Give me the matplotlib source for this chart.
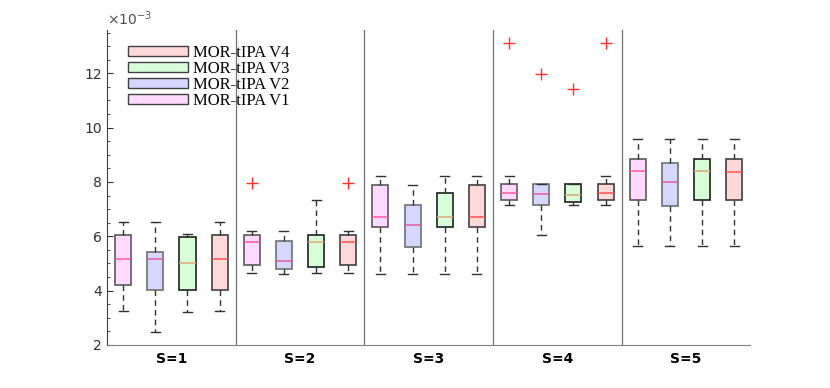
import matplotlib
matplotlib.use('Agg')
import matplotlib.pyplot as plt
from matplotlib.patches import Patch

# values in units of 1e-3, one list per version, one entry per S group
groups = ['S=1', 'S=2', 'S=3', 'S=4', 'S=5']
versions = ['MOR-tIPA V1', 'MOR-tIPA V2', 'MOR-tIPA V3', 'MOR-tIPA V4']

whislo = {
    'V1': [3.24, 4.64, 4.60, 7.14, 5.65],
    'V2': [2.46, 4.60, 4.60, 6.03, 5.65],
    'V3': [3.20, 4.64, 4.60, 7.14, 5.65],
    'V4': [3.24, 4.64, 4.60, 7.14, 5.65],
}
q1 = {
    'V1': [4.19, 4.95, 6.34, 7.33, 7.33],
    'V2': [4.04, 4.79, 5.59, 7.14, 7.10],
    'V3': [4.04, 4.87, 6.34, 7.26, 7.33],
    'V4': [4.04, 4.95, 6.34, 7.33, 7.33],
}
med = {
    'V1': [5.16, 5.80, 6.71, 7.61, 8.42],
    'V2': [5.16, 5.10, 6.42, 7.56, 8.01],
    'V3': [5.02, 5.80, 6.71, 7.51, 8.42],
    'V4': [5.16, 5.80, 6.71, 7.61, 8.36],
}
q3 = {
    'V1': [6.06, 6.03, 7.88, 7.92, 8.84],
    'V2': [5.41, 5.84, 7.14, 7.92, 8.71],
    'V3': [5.99, 6.03, 7.58, 7.92, 8.84],
    'V4': [6.06, 6.03, 7.88, 7.92, 8.84],
}
whishi = {
    'V1': [6.52, 6.19, 8.22, 8.23, 9.58],
    'V2': [6.52, 6.19, 7.88, 7.92, 9.58],
    'V3': [6.09, 7.33, 8.22, 7.92, 9.58],
    'V4': [6.52, 6.19, 8.22, 8.23, 9.58],
}
fliers = {
    'V1': [[], [7.97], [], [13.1], []],
    'V2': [[], [], [], [11.97], []],
    'V3': [[], [], [], [11.44], []],
    'V4': [[], [7.97], [], [13.1], []],
}

fills = {'V1': '#ffd9ff', 'V2': '#d6d6ff', 'V3': '#d9ffd9', 'V4': '#ffd9d9'}
edges = {'V1': '#5a5a5a', 'V2': '#707070', 'V3': '#202020', 'V4': '#404040'}
medcols = {'V1': '#ff5aa0', 'V2': '#e0609a', 'V3': '#d8a880', 'V4': '#ff5050'}
offsets = {'V1': -0.375, 'V2': -0.125, 'V3': 0.125, 'V4': 0.375}

fig = plt.figure(figsize=(8.3, 3.88), dpi=100)
ax = fig.add_axes([0.129, 0.111, 0.775, 0.812])

for key in ['V1', 'V2', 'V3', 'V4']:
    stats = []
    for i in range(len(groups)):
        stats.append({
            'whislo': whislo[key][i], 'q1': q1[key][i], 'med': med[key][i],
            'q3': q3[key][i], 'whishi': whishi[key][i], 'fliers': fliers[key][i],
        })
    pos = [i + 1 + offsets[key] for i in range(len(groups))]
    ax.bxp(stats, positions=pos, widths=0.125, patch_artist=True,
           showfliers=True,
           boxprops=dict(facecolor=fills[key], edgecolor=edges[key], linewidth=1.2),
           medianprops=dict(color=medcols[key], linewidth=1.1),
           whiskerprops=dict(color='#303030', linestyle=(0, (4, 3)), linewidth=1.0),
           capprops=dict(color='#303030', linewidth=1.0),
           capwidths=0.07,
           flierprops=dict(marker='+', markeredgecolor='#ff3030', markersize=8,
                           markeredgewidth=1.0, linestyle='none'))

# separators between groups
for x in [1.5, 2.5, 3.5, 4.5]:
    ax.axvline(x, color='#707070', linewidth=0.9)

ax.set_xlim(0.5, 5.5)
ax.set_ylim(2, 13.6)
ax.set_xticks(range(1, len(groups) + 1))
ax.set_xticklabels(groups, fontweight='bold', fontsize=10, fontfamily='DejaVu Sans')
ax.tick_params(axis='x', length=0, pad=5)
ax.set_yticks([2, 4, 6, 8, 10, 12])
ax.set_yticks([2 + 0.5 * k for k in range(24)], minor=True)
ax.tick_params(axis='y', direction='in', labelsize=10, colors='#303030', length=4)
ax.tick_params(axis='y', which='minor', direction='in', length=2.5, colors='#303030')
ax.spines['top'].set_visible(False)
ax.spines['right'].set_visible(False)
ax.spines['left'].set_color('#404040')
ax.spines['bottom'].set_color('#808080')
ax.text(0.0, 1.005, r'$\times 10^{-3}$', transform=ax.transAxes,
        fontsize=10, color='#505050', va='bottom', ha='left')

handles = [Patch(facecolor=fills[k], edgecolor='#404040', linewidth=1.0) for k in ['V4', 'V3', 'V2', 'V1']]
labels = ['MOR-tIPA V4', 'MOR-tIPA V3', 'MOR-tIPA V2', 'MOR-tIPA V1']
ax.legend(handles, labels, loc='upper left', bbox_to_anchor=(0.015, 0.99), frameon=False,
          prop={'family': 'Liberation Serif', 'size': 12}, handlelength=3.6, handleheight=0.6,
          labelspacing=0.0, handletextpad=0.3, borderpad=0.2)

fig.savefig('out.png', dpi=100)
